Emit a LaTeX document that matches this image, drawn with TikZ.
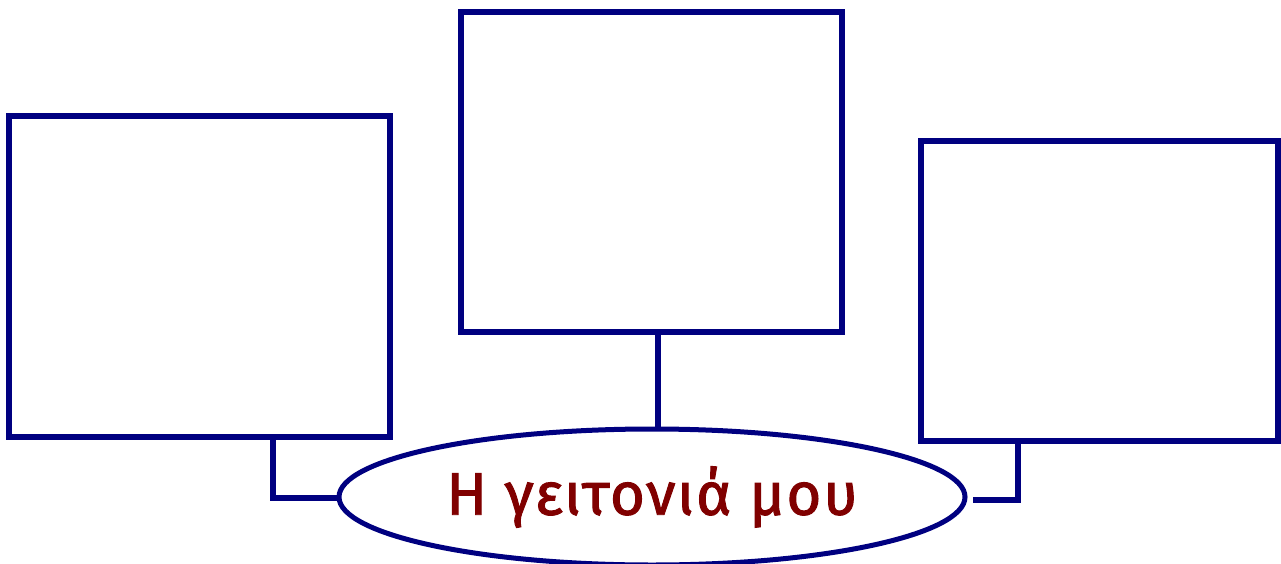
\documentclass[tikz,border=0pt]{standalone}
\usepackage{fontspec}
\setmainfont{Fira Sans}
\newfontfamily\titlefont[FakeBold=1.6,LetterSpace=3]{Fira Sans}
\usetikzlibrary{shapes.geometric}
\definecolor{navyline}{RGB}{0,0,128}
\definecolor{titlered}{RGB}{128,0,0}
\tikzset{
  box/.style={draw=navyline, line width=6pt, rectangle, inner sep=0pt},
  conn/.style={draw=navyline, line width=6pt},
  oval/.style={draw=navyline, line width=5pt, ellipse, inner sep=0pt, text=titlered,
    font=\titlefont\fontsize{60}{60}\selectfont}
}
\begin{document}
\begin{tikzpicture}[x=1pt,y=-1pt]
\useasboundingbox (0,0) rectangle (1281,564);
\node[box, minimum width=381pt, minimum height=321pt] (b1) at (199.5,276.5) {};
\node[box, minimum width=381pt, minimum height=320pt] (b2) at (651.5,172) {};
\node[box, minimum width=357pt, minimum height=300pt] (b3) at (1099.5,291) {};
\node[oval, minimum width=626pt, minimum height=136pt] (ell) at (652,497) {\raisebox{-6pt}{Η γειτονιά μου}};
\draw[conn] ([xshift=73.5pt]b1.south) |- ([yshift=-1pt]ell.west);
\draw[conn] ([xshift=6pt]b2.south) -- ([xshift=6pt]b2.south |- ell.north);
\draw[conn] ([xshift=-82pt]b3.south) |- ([xshift=5pt,yshift=-3pt]ell.east);
\end{tikzpicture}
\end{document}
